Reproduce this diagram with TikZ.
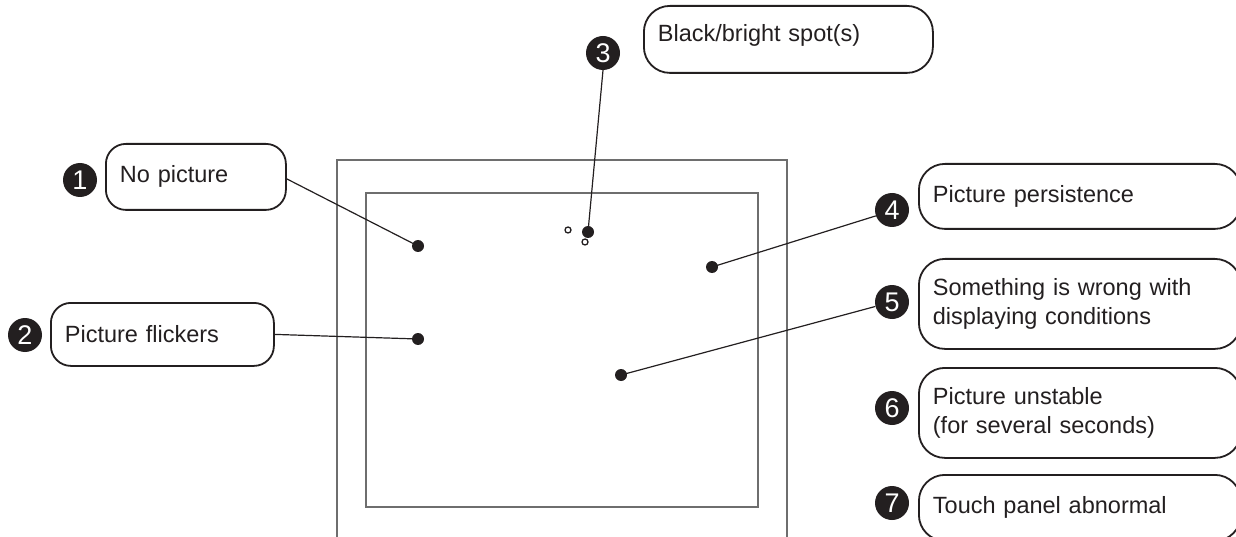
\documentclass[tikz,border=0pt]{standalone}
\usepackage{fontspec}
\setmainfont{Liberation Sans}
\definecolor{ink}{HTML}{231F20}
\definecolor{framegray}{HTML}{6E6E6E}
\begin{document}
\begin{tikzpicture}[x=1pt,y=-1pt,
  box/.style={draw=ink, line width=1.8pt, rounded corners=20pt, anchor=north west, inner xsep=14pt, inner ysep=0pt, font=\fontsize{23.5}{29}\selectfont, text=ink, align=left},
  num/.style={circle, fill=ink, text=white, minimum size=34pt, inner sep=0pt, font=\fontsize{27}{27}\selectfont},
  dot/.style={circle, fill=ink, minimum size=12pt, inner sep=0pt},
  ring/.style={circle, draw=ink, line width=1.3pt, minimum size=6pt, inner sep=0pt},
  leader/.style={draw=ink, line width=1.2pt},
  frame/.style={draw=framegray, line width=1.6pt}]
\useasboundingbox (0,0) rectangle (1236,537);
\clip (0,0) rectangle (1236,537);

% monitor frame
\draw[frame] (337,545) -- (337,160) -- (787,160) -- (787,545);
\draw[frame] (366,193) rectangle (758,507);
\draw[draw=framegray, line width=2.6pt] (366,268) -- (366,285);
\draw[draw=framegray, line width=2.6pt] (758,268) -- (758,285);

% callout boxes
\node[box, text width=152pt, minimum height=66pt] (b1) at (105,143) {No picture};
\node[box, text width=195pt, minimum height=63pt] (b2) at (50,302) {Picture flickers};
\node[box, text width=261pt, minimum height=67pt, rounded corners=26pt, text depth=12pt] (b3) at (643,5) {Black/bright spot(s)};
\node[box, text width=294pt, minimum height=65pt, rounded corners=26pt] (b4) at (918,163) {Picture persistence};
\node[box, text width=294pt, minimum height=90pt, rounded corners=26pt] (b5) at (918,258) {Something is wrong with\\displaying conditions};
\node[box, text width=294pt, minimum height=90pt, rounded corners=26pt] (b6) at (918,367) {Picture unstable\\(for several seconds)};
\node[box, text width=294pt, minimum height=66pt, rounded corners=26pt] (b7) at (918,474) {Touch panel abnormal};

% numbered markers
\node[num] (n1) at (80,180) {1};
\node[num] (n2) at (25,335) {2};
\node[num] (n3) at (603,53) {3};
\node[num] (n4) at (892,210) {4};
\node[num] (n5) at (892,302) {5};
\node[num] (n6) at (892,408) {6};
\node[num] (n7) at (892,503) {7};

% dots on the screen
\node[dot] (d1) at (418,246) {};
\node[dot] (d2) at (418,339) {};
\node[dot] (d3) at (588,232) {};
\node[dot] (d4) at (712,267) {};
\node[dot] (d5) at (621,375) {};
\node[ring] (r1) at (568,230) {};
\node[ring] (r2) at (585,242) {};

% leaders
\draw[leader] (b1.east) ++(0,2) coordinate (c1) -- (d1.center);
\draw[leader] (b2.east) -- (d2.center);
\draw[leader] (n3.south) -- (d3.center);
\draw[leader] (n4.200) -- (d4.center);
\draw[leader] (n5.195) -- (d5.center);
\end{tikzpicture}
\end{document}
